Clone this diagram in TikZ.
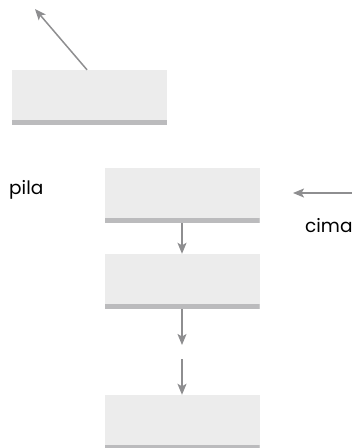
\documentclass[tikz,border=0pt]{standalone}
\usepackage{fontspec}
\setmainfont{Poppins}
\usetikzlibrary{arrows.meta}
\definecolor{cellfill}{HTML}{ECECEC}
\definecolor{cellbar}{HTML}{BBBBBD}
\definecolor{linkgrey}{HTML}{8E8E90}
\begin{document}
\begin{tikzpicture}[x=1pt,y=-1pt,
  cell/.style={fill=cellfill,draw=none,minimum width=155pt,minimum height=55pt,inner sep=0pt,
    path picture={\fill[cellbar] ([yshift=5pt]path picture bounding box.south west) rectangle (path picture bounding box.south east);}},
  link/.style={draw=linkgrey,line width=1.5pt,-{Stealth[length=11pt,width=9pt,inset=2.5pt]}},
  lbl/.style={font=\fontsize{18.5}{22}\selectfont,text=black,inner sep=0pt}]
\useasboundingbox (0,0) rectangle (352,448);
% cells of the stack
\node[cell] (free) at (89.5,97.5) {};
\node[cell] (c1) at (182,195.5) {};
\node[cell] (c2) at (182,281.5) {};
\node[cell] (c3) at (182,422.5) {};
% labels
\node[lbl,anchor=base west] (pila) at (9,194) {pila};
\node[lbl,anchor=base west] (cima) at (305,232) {cima};
% pointers
\coordinate (freeend) at (35,9);
\coordinate (topstart) at (352,193);
\coordinate (gapa) at (182,345);
\coordinate (gapb) at (182,359);
\draw[link] (free.north) ++(-2.5,0) coordinate (freestart) -- (freeend);
\draw[link] (topstart) -- (293,193) coordinate (toptip);
\draw[link] (c1.south) -- (c2.north);
\draw[link] (c2.south) -- (gapa);
\draw[link] (gapb) -- (c3.north);
\end{tikzpicture}
\end{document}
